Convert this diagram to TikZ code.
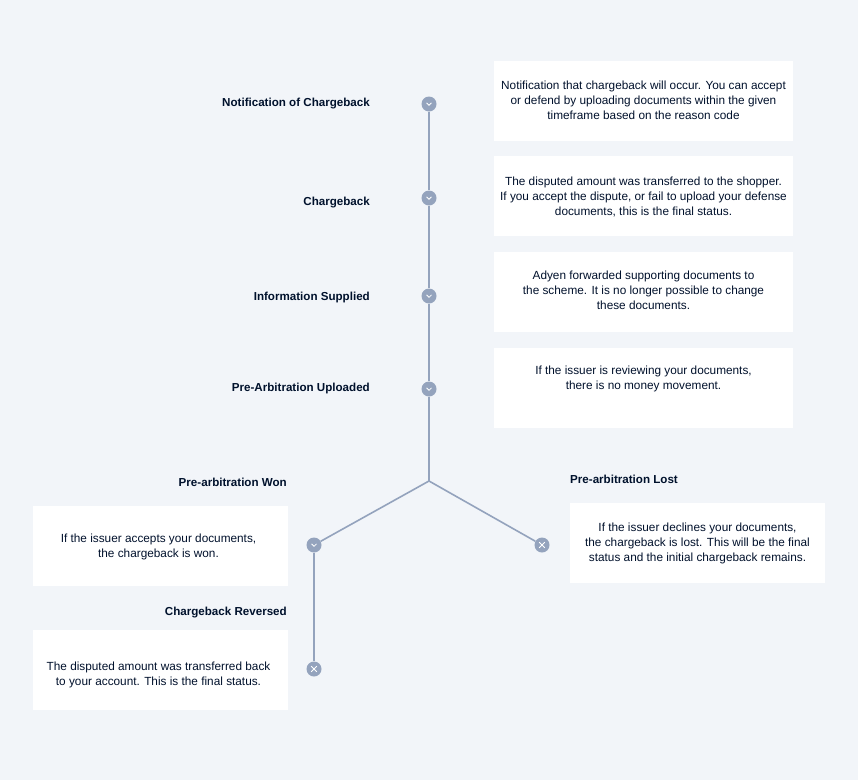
\documentclass[tikz,border=0pt]{standalone}
\usepackage{fontspec}
\setmainfont{Liberation Sans}
\usepackage{xcolor}
\usetikzlibrary{positioning}
\definecolor{bgcol}{HTML}{F2F5F9}
\definecolor{linecol}{HTML}{94A3BD}
\definecolor{inkcol}{HTML}{00112C}
\tikzset{
  dot/.style={circle,fill=linecol,minimum size=15pt,inner sep=0pt},
  info/.style={font=\fontsize{11.8}{14.8}\selectfont,text=inkcol,align=center,inner sep=0pt},
  head/.style={font=\fontsize{11.6}{12}\selectfont\bfseries,text=inkcol,inner sep=0pt},
  link/.style={linecol,line width=1.6pt}
}
\newcommand{\chev}[1]{\draw[white,line width=0.8pt] ([shift={(-2.5pt,1.2pt)}]#1.center) -- ([shift={(0pt,-1.3pt)}]#1.center) -- ([shift={(2.5pt,1.2pt)}]#1.center);}
\newcommand{\cross}[1]{\draw[white,line width=0.8pt] ([shift={(-2.8pt,-2.8pt)}]#1.center) -- ([shift={(2.8pt,2.8pt)}]#1.center) ([shift={(-2.8pt,2.8pt)}]#1.center) -- ([shift={(2.8pt,-2.8pt)}]#1.center);}
\begin{document}
\begin{tikzpicture}[x=1pt,y=-1pt]
\fill[bgcol] (0,0) rectangle (858,780);
\useasboundingbox (0,0) rectangle (858,780);
% boxes
\fill[white] (494,61) rectangle (793,141);
\fill[white] (494,156) rectangle (793,236);
\fill[white] (494,252) rectangle (793,332);
\fill[white] (494,348) rectangle (793,428);
\fill[white] (33,506) rectangle (288,586);
\fill[white] (570,503) rectangle (825,583);
\fill[white] (33,630) rectangle (288,710);
% timeline
\node[dot] (s1) at (429,104) {};
\node[dot] (s2) at (429,198) {};
\node[dot] (s3) at (429,296) {};
\node[dot] (s4) at (429,389) {};
\coordinate (fork) at (429,481);
\node[dot] (won) at (314,545) {};
\node[dot] (lost) at (542,545) {};
\node[dot] (rev) at (314,669) {};
\draw[link] (s1) -- (s2);
\draw[link] (s2) -- (s3);
\draw[link] (s3) -- (s4);
\draw[link] (s4) -- (fork);
\draw[link] (fork) -- (won);
\draw[link] (fork) -- (lost);
\draw[link] (won) -- (rev);
\chev{s1} \chev{s2} \chev{s3} \chev{s4} \chev{won}
\cross{lost} \cross{rev}
% headings
\node[head,anchor=east] (h1) at (370,104) {Notification of Chargeback};
\node[head,anchor=east] (h2) at (370,203) {Chargeback};
\node[head,anchor=east] (h3) at (370,297) {Information Supplied};
\node[head,anchor=east] (h4) at (370,388) {Pre-Arbitration Uploaded};
\node[head,anchor=east] (h5) at (287,482) {Pre-arbitration Won};
\node[head,anchor=west] (h6) at (570,479) {Pre-arbitration Lost};
\node[head,anchor=east] (h7) at (287,613) {Chargeback Reversed};
% texts
\node[info,anchor=north] (t1) at (643.5,81) {Notification that chargeback will occur. You can accept\\or defend by uploading documents within the given\\timeframe based on the reason code};
\node[info,anchor=north] (t2) at (643.5,177) {The disputed amount was transferred to the shopper.\\If you accept the dispute, or fail to upload your defense\\documents, this is the final status.};
\node[info,anchor=north] (t3) at (643.5,271) {Adyen forwarded supporting documents to\\the scheme. It is no longer possible to change\\these documents.};
\node[info,anchor=north] (t4) at (643.5,366) {If the issuer is reviewing your documents,\\there is no money movement.};
\node[info,anchor=north] (t5) at (158.5,534) {If the issuer accepts your documents,\\the chargeback is won.};
\node[info,anchor=north] (t6) at (697.5,523) {If the issuer declines your documents,\\the chargeback is lost. This will be the final\\status and the initial chargeback remains.};
\node[info,anchor=north] (t7) at (158.5,662) {The disputed amount was transferred back\\to your account. This is the final status.};
\end{tikzpicture}
\end{document}
